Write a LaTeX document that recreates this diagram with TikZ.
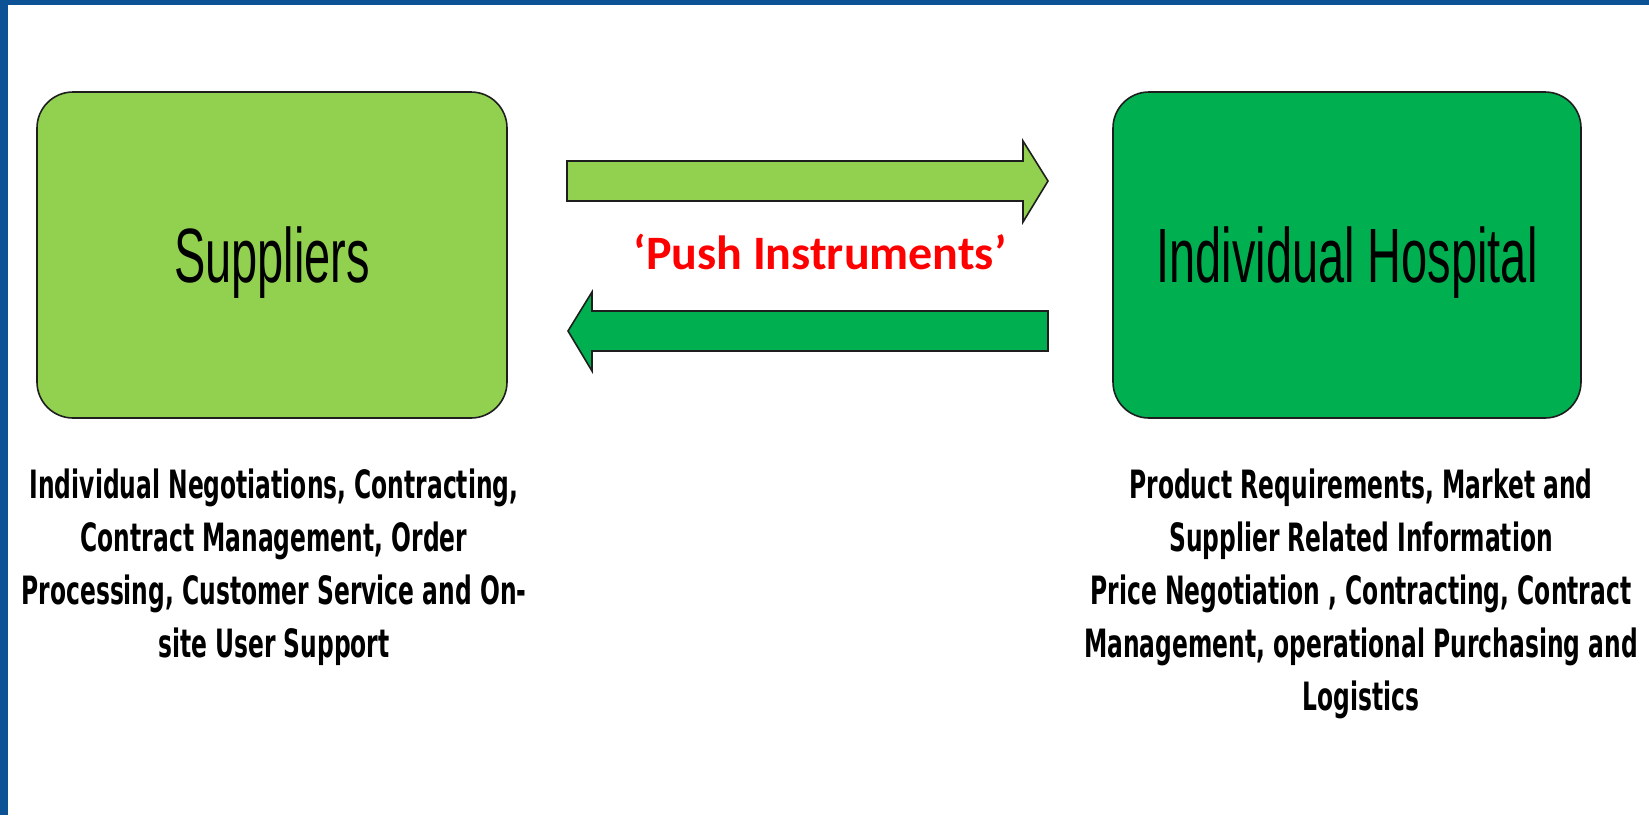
\documentclass[tikz,border=0pt]{standalone}
\usepackage{fontspec}
\usepackage{graphicx}
\newfontfamily\boxfont{Liberation Sans}
\newfontfamily\capfont{DejaVu Sans}
\newfontfamily\pushfont{Carlito}
\definecolor{lgreen}{RGB}{146,208,80}
\definecolor{dgreen}{RGB}{0,176,80}
\definecolor{frameblue}{RGB}{13,82,148}
\definecolor{edgegray}{RGB}{30,30,30}
\tikzset{
  bigbox/.style={draw=edgegray, line width=1.6pt, rounded corners=36pt,
    minimum width=470pt, minimum height=326pt, inner sep=0pt,
    text height=55pt, text depth=0pt,
    font=\boxfont\fontsize{77}{80}\selectfont},
  blockarrow/.style={draw=edgegray, line width=1.6pt, line join=miter},
  caption/.style={anchor=base, inner sep=0pt,
    font=\capfont\bfseries\fontsize{39}{53}\selectfont},
  pushlabel/.style={anchor=base, inner sep=0pt, text=red,
    font=\pushfont\bfseries\fontsize{48}{50}\selectfont}
}
\begin{document}
\begin{tikzpicture}[x=1pt,y=-1pt]
\useasboundingbox (0,0) rectangle (1649,815);
\fill[white] (0,0) rectangle (1649,815);
\fill[frameblue] (0,0) rectangle (1649,5);
\fill[frameblue] (0,0) rectangle (8,815);

\node[bigbox, fill=lgreen] (sup) at (272,255) {\scalebox{0.61}[1]{Suppliers}};
\node[bigbox, fill=dgreen, minimum width=468pt] (hosp) at (1347,255) {\scalebox{0.61}[1]{Individual Hospital}};

\draw[blockarrow, fill=lgreen] (567,161) -- (1023,161) -- (1023,141) -- (1048,181)
  -- (1023,222) -- (1023,201) -- (567,201) -- cycle;
\draw[blockarrow, fill=dgreen] (1048,311) -- (592,311) -- (592,292) -- (568,331)
  -- (592,371) -- (592,351) -- (1048,351) -- cycle;

\node[pushlabel] (push) at (820,269) {‘Push Instruments’};

\node[caption] (suptext) at (274,498) {\scalebox{0.6}[1]{\begin{tabular}[t]{@{}c@{}}
Individual Negotiations, Contracting,\\
Contract Management, Order\\
Processing, Customer Service and On-\\
site User Support\end{tabular}}};

\node[caption] (hosptext) at (1361,498) {\scalebox{0.6}[1]{\begin{tabular}[t]{@{}c@{}}
Product Requirements, Market and\\
Supplier Related Information\\
Price Negotiation , Contracting, Contract\\
Management, operational Purchasing and\\
Logistics\end{tabular}}};
\end{tikzpicture}
\end{document}
